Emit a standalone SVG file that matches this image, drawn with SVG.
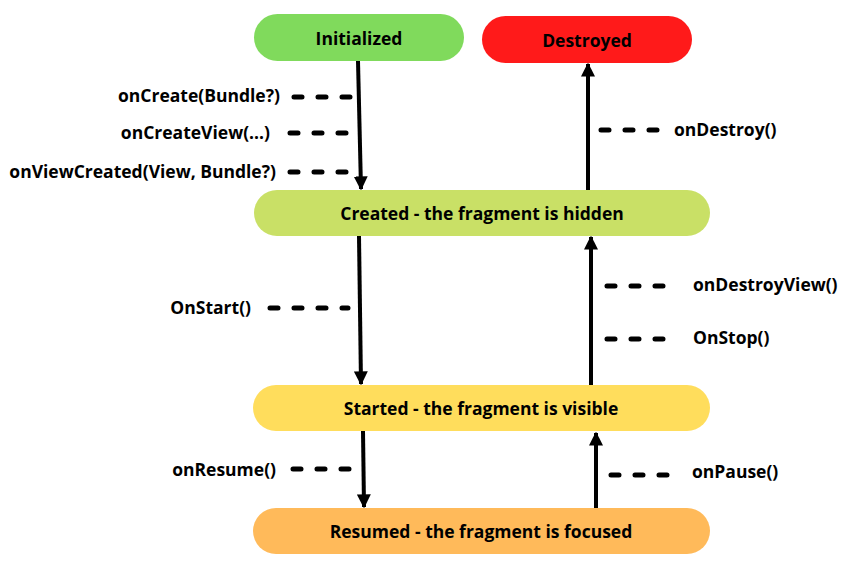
<svg xmlns="http://www.w3.org/2000/svg" width="846" height="568" viewBox="0 0 846 568">
<style>
text{font-family:"Open Sans","Liberation Sans",sans-serif;font-weight:700;font-size:17.5px;fill:#000}
.n{text-anchor:middle;dominant-baseline:central}
.l{dominant-baseline:central}
.r{text-anchor:end;dominant-baseline:central}
.a{stroke:#000;stroke-width:4;fill:none}
.d{stroke:#000;stroke-width:5;stroke-dasharray:8 16;stroke-linecap:round;fill:none}
</style>
<defs>
<marker id="ah" viewBox="0 0 10 10" refX="9" refY="5" markerWidth="3.5" markerHeight="3.5" markerUnits="strokeWidth" orient="auto">
<path d="M0,0 L10,5 L0,10 z" fill="#000"/>
</marker>
</defs>
<rect width="846" height="568" fill="#fff"/>
<g id="initialized"><rect x="254" y="14" width="210" height="47" rx="23.5" fill="#80DA5C"/><text class="n" x="359" y="38">Initialized</text></g>
<g id="destroyed"><rect x="482" y="16" width="210" height="47" rx="23.5" fill="#FF1A1A"/><text class="n" x="587" y="40">Destroyed</text></g>
<g id="created"><rect x="254" y="190" width="456" height="46" rx="23" fill="#C9E066"/><text class="n" x="482" y="213">Created - the fragment is hidden</text></g>
<g id="started"><rect x="253" y="385" width="457" height="46" rx="23" fill="#FFDD5C"/><text class="n" x="481" y="408">Started - the fragment is visible</text></g>
<g id="resumed"><rect x="253" y="508" width="457" height="46" rx="23" fill="#FFBA5A"/><text class="n" x="481" y="531">Resumed - the fragment is focused</text></g>
<g id="connectors">
<line class="a" x1="358" y1="61" x2="361" y2="189" marker-end="url(#ah)"/>
<line class="a" x1="588" y1="190" x2="588" y2="64" marker-end="url(#ah)"/>
<line class="a" x1="359" y1="236" x2="361" y2="384" marker-end="url(#ah)"/>
<line class="a" x1="591" y1="385" x2="591" y2="237" marker-end="url(#ah)"/>
<line class="a" x1="363" y1="431" x2="364" y2="507" marker-end="url(#ah)"/>
<line class="a" x1="596" y1="508" x2="596" y2="433" marker-end="url(#ah)"/>
<path class="d" d="M294,97 H352"/>
<path class="d" d="M290,133 H346"/>
<path class="d" d="M290,172 H346"/>
<path class="d" d="M601,130 H657"/>
<path class="d" d="M270,308 H348"/>
<path class="d" d="M607,286 H664"/>
<path class="d" d="M607,339 H664"/>
<path class="d" d="M293,469 H349"/>
<path class="d" d="M611,475 H668"/>
<text class="r" x="280" y="95">onCreate(Bundle?)</text>
<text class="r" x="270" y="132">onCreateView(...)</text>
<text class="r" x="276" y="171">onViewCreated(View, Bundle?)</text>
<text class="l" x="674" y="129">onDestroy()</text>
<text class="r" x="251" y="307">OnStart()</text>
<text class="l" x="693" y="284">onDestroyView()</text>
<text class="l" x="693" y="337">OnStop()</text>
<text class="r" x="276" y="469">onResume()</text>
<text class="l" x="692" y="471">onPause()</text>
</g>
</svg>
